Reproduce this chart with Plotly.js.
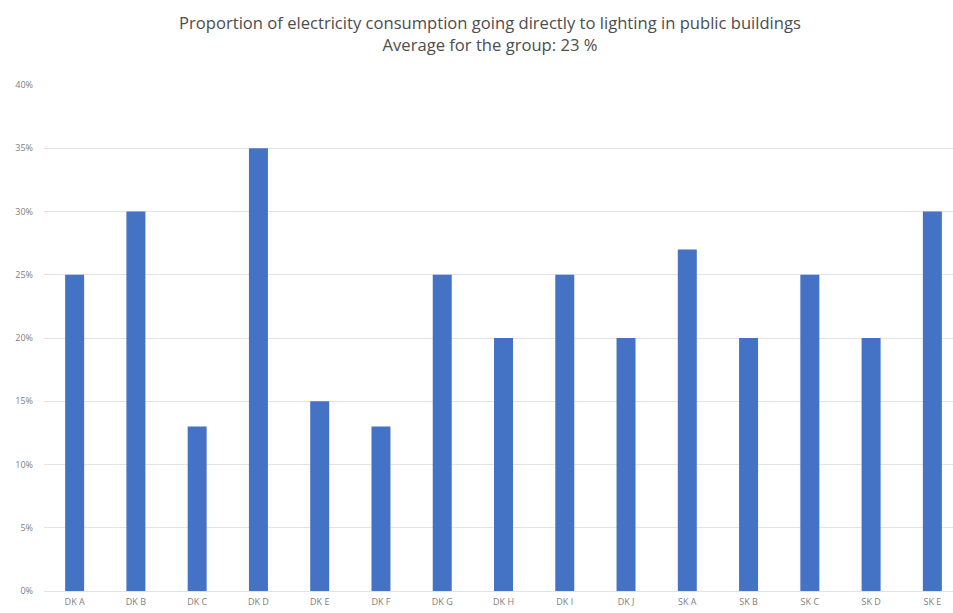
<!DOCTYPE html>
<html>
<head>
<meta charset="utf-8">
<script src="https://cdn.plot.ly/plotly-3.0.1.min.js"></script>
<style>
html, body { margin: 0; padding: 0; overflow: hidden; background: #ffffff; }
#chart { width: 963px; height: 613px; }
</style>
</head>
<body>
<div id="chart"></div>
<script>
const categories = ["DK A", "DK B", "DK C", "DK D", "DK E", "DK F", "DK G", "DK H", "DK I", "DK J", "SK A", "SK B", "SK C", "SK D", "SK E"];
const shares = [0.25, 0.30, 0.13, 0.35, 0.15, 0.13, 0.25, 0.20, 0.25, 0.20, 0.27, 0.20, 0.25, 0.20, 0.30];
const yTickValues = [0, 0.05, 0.10, 0.15, 0.20, 0.25, 0.30, 0.35, 0.40];
const yTickLabels = ["0%", "5%", "10%", "15%", "20%", "25%", "30%", "35%", "40%"];
const titleLines = ["Proportion of electricity consumption going directly to lighting in public buildings", "Average for the group: 23 %"];

const trace = {
  type: "bar",
  x: categories,
  y: shares,
  marker: { color: "#4472C4" },
  hoverinfo: "x+y"
};

const layout = {
  width: 963,
  height: 613,
  margin: { l: 44, r: 0, t: 85, b: 22, pad: 0 },
  paper_bgcolor: "#ffffff",
  plot_bgcolor: "#ffffff",
  bargap: 0.69,
  showlegend: false,
  font: { family: "Open Sans, sans-serif", color: "#808080" },
  title: {
    text: titleLines.join("<br>"),
    font: { family: "Open Sans, sans-serif", size: 16.6, color: "#4d4d4d" },
    x: 490 / 963,
    xanchor: "center",
    xref: "container",
    y: 1 - 29 / 613,
    yref: "container",
    yanchor: "middle"
  },
  xaxis: {
    type: "category",
    showgrid: false,
    zeroline: false,
    showline: false,
    ticks: "",
    tickfont: { size: 9, color: "#808080" },
    ticklabelstandoff: 4
  },
  yaxis: {
    range: [0, 0.40],
    tickvals: yTickValues,
    ticktext: yTickLabels,
    showgrid: true,
    gridcolor: "#e3e3e3",
    gridwidth: 1,
    zeroline: true,
    zerolinecolor: "#e3e3e3",
    zerolinewidth: 1,
    showline: false,
    ticks: "",
    tickfont: { size: 9, color: "#808080" },
    ticklabelstandoff: 10
  }
};

Plotly.newPlot("chart", [trace], layout, { displayModeBar: false });
</script>
</body>
</html>
